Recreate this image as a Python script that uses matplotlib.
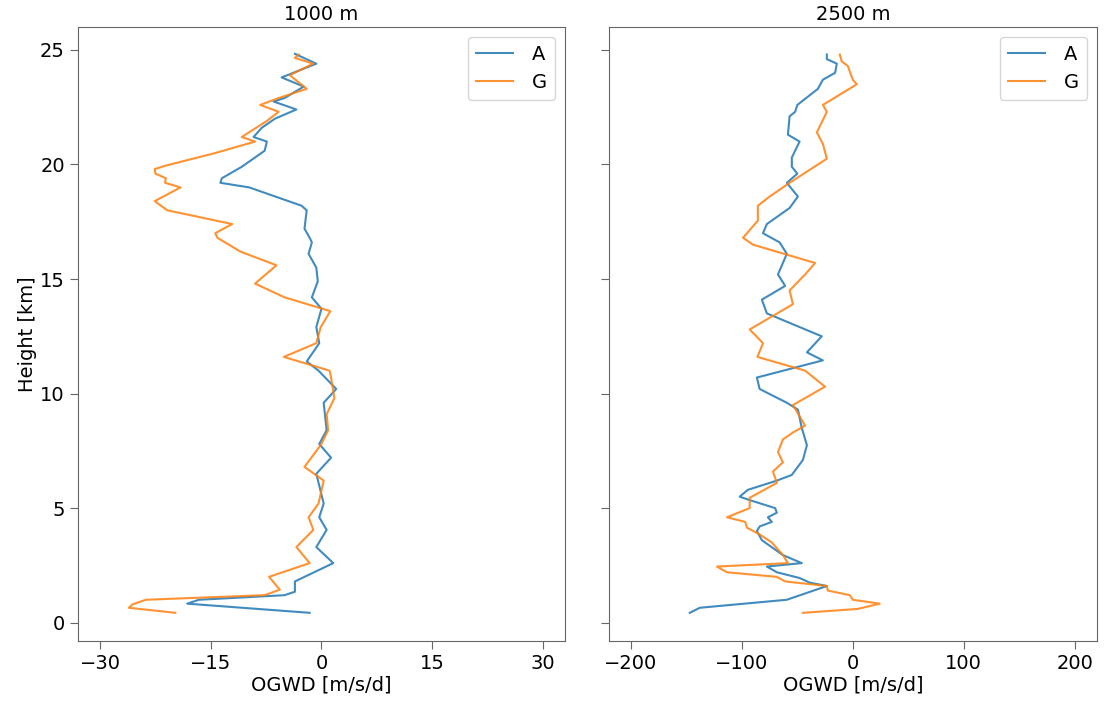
import matplotlib
matplotlib.use("Agg")
import matplotlib.pyplot as plt

# 1000 m panel
h_a_1000 = [24.83, 24.4, 23.8, 23.4, 22.9, 22.75, 22.4, 22.0, 21.6, 21.2, 21.0, 20.6, 19.9, 19.4,
            19.2, 19.0, 18.2, 18.0, 17.2, 16.8, 16.6, 16.1, 15.5, 14.9, 14.2, 13.7, 12.9, 12.2,
            11.4, 11.0, 10.2, 9.6, 8.4, 7.8, 7.2, 6.5, 5.2, 4.6, 4.05, 3.3, 2.6, 1.8, 1.35, 1.2,
            1.0, 0.83, 0.43]
a_1000 = [-3.6, -0.7, -5.4, -2.4, -5.0, -6.5, -3.4, -6.3, -8.1, -9.2, -7.4, -7.7, -10.8, -13.5,
          -13.7, -9.8, -2.7, -2.0, -2.3, -1.6, -1.3, -1.75, -0.7, -0.5, -1.3, 0.0, -0.7, -0.3,
          -2.0, -0.4, 2.0, 0.3, 0.7, -0.3, 1.3, -0.7, 0.3, -0.3, 0.7, -0.7, 1.6, -3.6, -3.6, -5.0,
          -16.6, -18.2, -1.6]
h_g_1000 = [24.8, 24.65, 24.4, 23.9, 23.3, 22.9, 22.6, 22.3, 21.9, 21.2, 21.0, 20.5, 19.95, 19.8,
            19.6, 19.4, 19.2, 19.0, 18.4, 18.0, 17.4, 17.0, 16.8, 16.2, 15.6, 14.8, 14.2, 13.6,
            12.9, 12.2, 11.6, 11.0, 10.7, 9.8, 9.1, 8.4, 7.8, 6.8, 6.2, 5.2, 4.6, 4.05, 3.3, 2.6,
            2.0, 1.44, 1.2, 1.0, 0.8, 0.65, 0.43]
g_1000 = [-3.1, -3.6, -1.1, -4.3, -2.0, -5.8, -8.3, -5.8, -7.4, -10.8, -9.0, -14.4, -21.1, -22.6,
          -22.5, -21.1, -21.2, -19.1, -22.6, -20.9, -12.1, -14.4, -14.1, -11.0, -6.1, -9.0, -5.0,
          1.2, -0.1, -0.7, -5.1, 1.1, 1.3, 1.75, 0.7, 0.9, 0.0, -2.3, 0.3, -0.4, -1.75, -1.1,
          -3.4, -1.6, -7.1, -5.65, -7.7, -23.8, -25.6, -26.1, -19.8]

# 2500 m panel
h_a_2500 = [24.8, 24.6, 24.4, 24.0, 23.7, 23.3, 22.6, 22.3, 22.1, 21.3, 21.0, 20.3, 19.9, 19.6,
            19.2, 18.6, 18.1, 17.4, 17.0, 16.6, 16.1, 15.2, 14.7, 14.1, 13.5, 12.5, 11.8, 11.45,
            10.7, 10.2, 9.6, 9.3, 8.5, 7.75, 7.1, 6.45, 6.2, 5.8, 5.5, 5.35, 5.0, 4.8, 4.6, 4.4,
            4.2, 4.0, 3.6, 2.95, 2.6, 2.45, 2.2, 1.95, 1.75, 1.6, 1.0, 0.65, 0.43]
a_2500 = [-23.4, -23.4, -14.4, -16, -27, -31.5, -50, -52, -57, -58.5, -48, -55, -55, -50,
          -59.5, -49.5, -57, -77.5, -81, -66, -59.5, -67.5, -61, -82, -77.5, -28, -41.4, -27,
          -86.5, -84, -59.5, -49.5, -46, -41.4, -45, -55, -68.5, -94.6, -102, -93, -70, -68.5,
          -76.6, -73, -84, -86.5, -82, -63, -46, -77.5, -68.5, -48, -39, -23.4, -59.5, -138, -147]
h_g_2500 = [24.8, 24.5, 24.3, 23.7, 23.5, 22.6, 22.3, 21.4, 20.9, 20.25, 19.2, 18.6, 18.2, 17.55,
            16.8, 16.5, 15.7, 15.2, 14.5, 13.9, 12.8, 12.2, 11.6, 11.0, 10.3, 9.5, 8.6, 8.3, 8.0,
            7.45, 7.0, 6.6, 6.1, 5.45, 5.0, 4.6, 4.4, 4.15, 3.85, 3.5, 2.95, 2.6, 2.45, 2.2, 2.0,
            1.8, 1.6, 1.4, 1.2, 1.0, 0.83, 0.6, 0.43]
g_2500 = [-11.7, -10, -4.5, 0, 3.6, -27, -23.4, -32.4, -27, -23.4, -57, -75, -85.6, -85.6,
          -99, -90, -34, -43, -57, -54, -93, -81, -86, -43, -25, -54, -43, -54, -63,
          -67.5, -63, -72, -68.5, -93, -93, -113.5, -97, -95.5, -84, -73, -63, -58.5, -122.5,
          -113.5, -68.5, -61, -23.4, -22.5, -2.7, 0, 24.3, 4.5, -45]

titles = ["1000 m", "2500 m"]
xticks = [[-30, -15, 0, 15, 30], [-200, -100, 0, 100, 200]]
xlims = [(-33, 33), (-220, 220)]

plt.rcParams["font.size"] = 14

fig = plt.figure(figsize=(11.11, 7.02), dpi=100)
ax1 = fig.add_axes([0.0702, 0.0869, 0.4383, 0.8746])
ax2 = fig.add_axes([0.548, 0.0869, 0.4392, 0.8746], sharey=ax1)

ax1.plot(a_1000, h_a_1000, color="tab:blue", lw=1.5, alpha=0.85, label="A")
ax1.plot(g_1000, h_g_1000, color="tab:orange", lw=1.5, alpha=0.85, label="G")
ax2.plot(a_2500, h_a_2500, color="tab:blue", lw=1.5, alpha=0.85, label="A")
ax2.plot(g_2500, h_g_2500, color="tab:orange", lw=1.5, alpha=0.85, label="G")

for i, ax in enumerate([ax1, ax2]):
    ax.set_title(titles[i], fontsize=14, pad=5)
    ax.set_xticks(xticks[i])
    ax.set_xlim(*xlims[i])
    ax.set_xlabel("OGWD [m/s/d]", fontsize=14, labelpad=2)
    ax.tick_params(length=6, width=0.8, labelsize=14, color="#666666")
    for sp in ax.spines.values():
        sp.set_color("#666666")
        sp.set_linewidth(0.8)
    ax.legend(loc="upper right", fontsize=14, handlelength=1.9, handletextpad=1.0)

ax1.set_ylim(-0.8, 26)
ax1.set_yticks([0, 5, 10, 15, 20, 25])
ax1.set_ylabel("Height [km]", fontsize=14, labelpad=2)
ax2.tick_params(labelleft=False)

fig.savefig("out.png", dpi=100)
